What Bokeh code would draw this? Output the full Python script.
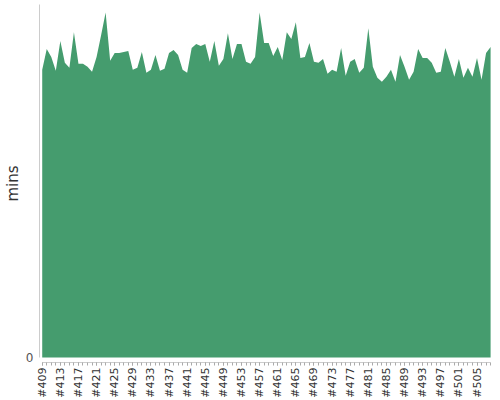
import math
from bokeh.plotting import figure
from bokeh.models import FixedTicker, Range1d, ColumnDataSource
from bokeh.embed import file_html
from bokeh.resources import INLINE

builds = list(range(409, 509))
mins = [29.1, 31.2, 30.4, 29.0, 32.0, 29.8, 29.3, 32.9, 29.7, 29.7,
        29.4, 28.9, 30.4, 32.6, 34.9, 30.0, 30.8, 30.8, 30.9, 31.0,
        29.1, 29.3, 30.9, 28.8, 29.1, 30.6, 29.0, 29.2, 30.8, 31.1,
        30.6, 29.1, 28.8, 31.3, 31.7, 31.5, 31.7, 29.9, 32.0, 29.5,
        30.2, 32.8, 30.2, 31.7, 31.7, 29.9, 29.7, 30.4, 34.9, 31.8,
        31.8, 30.5, 31.4, 30.1, 32.9, 32.2, 33.9, 30.3, 30.4, 31.8,
        29.9, 29.8, 30.2, 28.7, 29.1, 28.9, 31.3, 28.5, 29.9, 30.2,
        28.8, 29.3, 33.3, 29.4, 28.3, 27.9, 28.4, 29.1, 27.9, 30.6,
        29.4, 28.1, 28.9, 31.2, 30.3, 30.3, 29.8, 28.8, 28.9, 31.3,
        29.9, 28.4, 30.2, 28.3, 29.3, 28.4, 30.3, 28.1, 30.8, 31.4]
label_builds = list(range(409, 506, 4))
tick_labels = ["#%d" % b for b in label_builds]

source = ColumnDataSource(data=dict(build=builds, mins=mins))

p = figure(frame_width=452, frame_height=358,
           x_range=Range1d(408.4, 508.2), y_range=Range1d(-0.5, 35.7),
           output_backend="svg", toolbar_location=None,
           min_border_left=0, min_border_right=0, min_border_top=4, min_border_bottom=0)
p.outline_line_color = None
p.grid.visible = False

p.varea(x="build", y1=0, y2="mins", source=source, fill_color="#459c6e")

# x axis
xa = p.xaxis[0]
xa.ticker = FixedTicker(ticks=label_builds, minor_ticks=builds)
xa.major_label_overrides = {b: t for b, t in zip(label_builds, tick_labels)}
xa.major_label_orientation = math.pi / 2
xa.major_label_text_font = "DejaVu Sans"
xa.major_label_text_font_size = "11px"
xa.major_label_text_color = "#333333"
xa.major_label_standoff = 2
xa.axis_line_color = "#cccccc"
xa.major_tick_line_color = "#aaaaaa"
xa.minor_tick_line_color = "#aaaaaa"
xa.major_tick_in = 0
xa.major_tick_out = 3
xa.minor_tick_in = 0
xa.minor_tick_out = 3
xa.bounds = (409, 508)

# y axis
ya = p.yaxis[0]
ya.ticker = FixedTicker(ticks=[0])
ya.bounds = (0, 35.7)
ya.axis_line_color = "#cccccc"
ya.major_tick_in = 0
ya.major_tick_out = 0
ya.minor_tick_in = 0
ya.minor_tick_out = 0
ya.major_label_text_font = "DejaVu Sans"
ya.major_label_text_font_size = "12px"
ya.major_label_text_color = "#555555"
ya.major_label_standoff = 6
ya.axis_label = "mins"
ya.axis_label_text_font = "DejaVu Sans"
ya.axis_label_text_font_size = "15px"
ya.axis_label_text_font_style = "normal"
ya.axis_label_text_color = "#333333"
ya.axis_label_standoff = 1

open("out.html", "w").write(file_html(p, INLINE))
